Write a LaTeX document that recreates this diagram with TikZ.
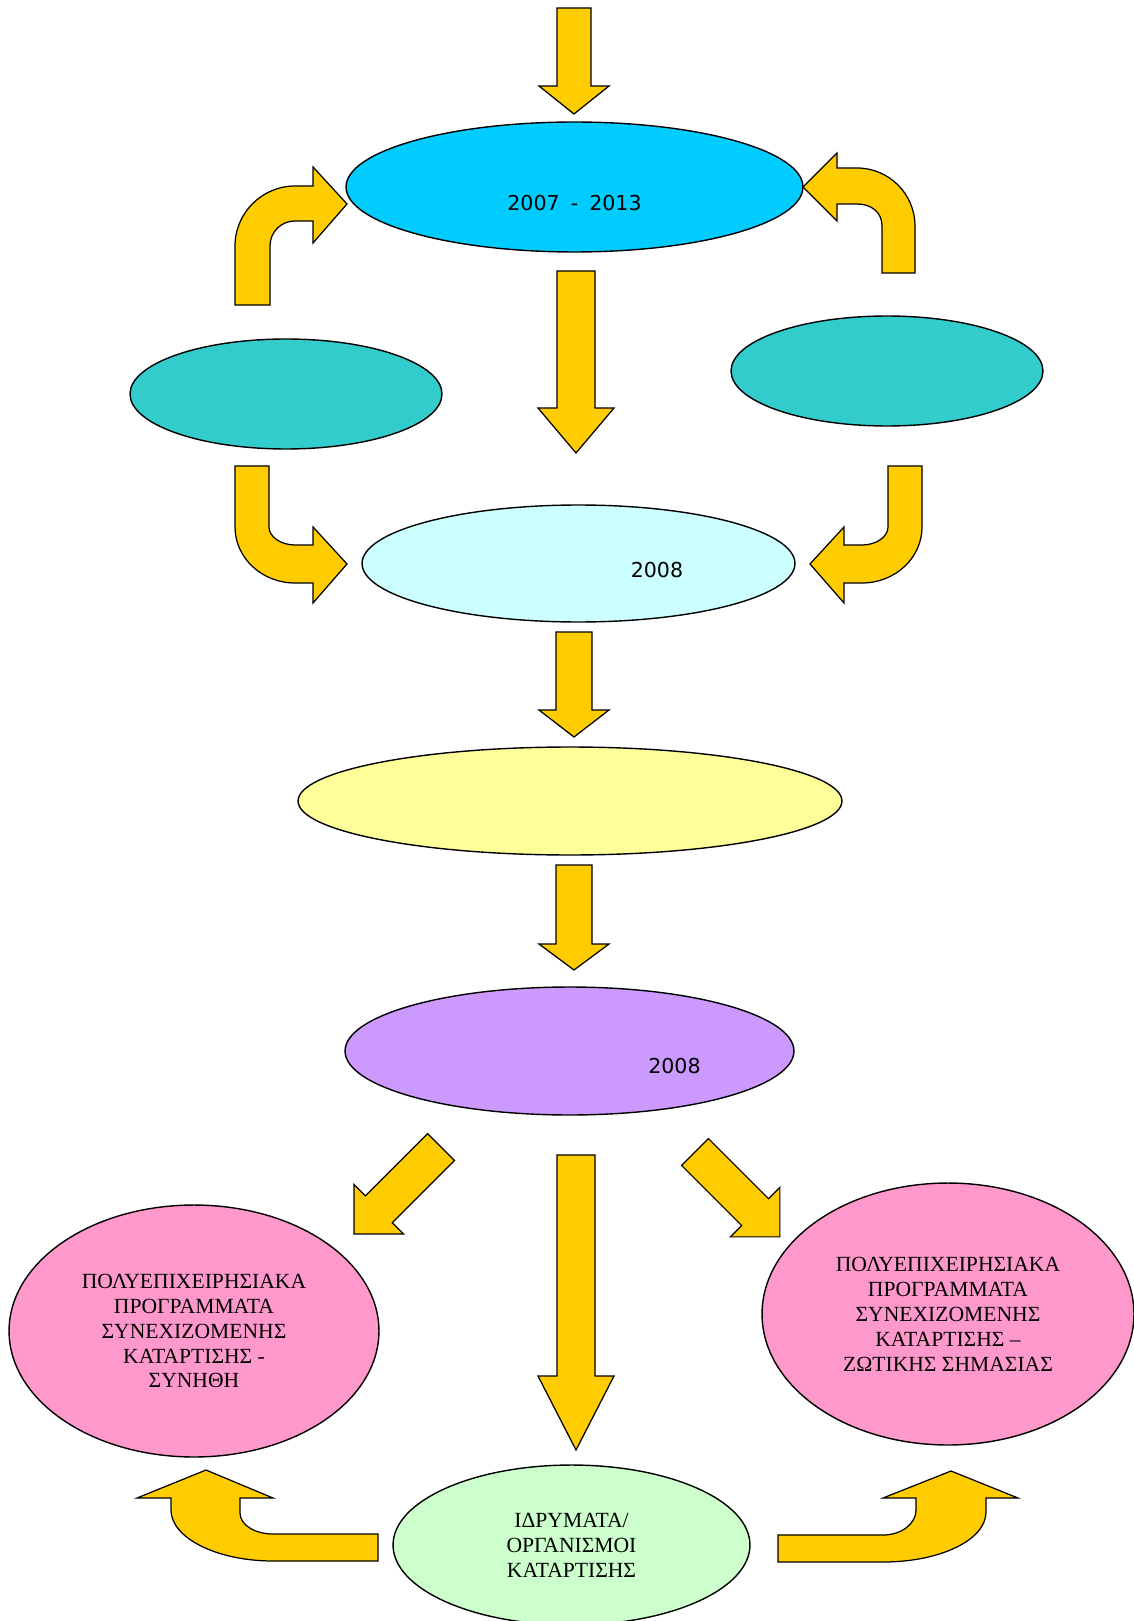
\documentclass[tikz,border=0pt]{standalone}
\usepackage{fontspec}
\setmainfont{Liberation Serif}
\newfontfamily\yearfont[WordSpace=1.7]{DejaVu Sans}
\usetikzlibrary{shapes.geometric}

\definecolor{arrowgold}{HTML}{FFCC00}
\definecolor{skyblue}{HTML}{00CCFF}
\definecolor{tealfill}{HTML}{33CCCC}
\definecolor{palecyan}{HTML}{CCFFFF}
\definecolor{paleyellow}{HTML}{FFFF99}
\definecolor{lilac}{HTML}{CC99FF}
\definecolor{rosefill}{HTML}{FF99CC}
\definecolor{palegreen}{HTML}{CCFFCC}

% straight block arrow: start, angle, length, shaft half, head half, head length
\newcommand{\blockarrow}[6]{%
  \draw[arrowbody,shift={(#1)},rotate=#2] (0,-#4) -- ({#3-#6},-#4) -- ({#3-#6},-#5)
    -- (#3,0) -- ({#3-#6},#5) -- ({#3-#6},#4) -- (0,#4) -- cycle;}

\begin{document}
\begin{tikzpicture}
	[x=0.02cm,y=-0.02cm,
		bubble/.style={ellipse,draw=black,line width=0.8pt,inner sep=0pt},
		greek/.style={align=center,font=\fontsize{12.3}{14.2}\selectfont},
		yeartext/.style={font=\yearfont\fontsize{11.7}{14}\selectfont},
		arrowbody/.style={fill=arrowgold,draw=black,line width=0.7pt,line join=miter}]
	\useasboundingbox (0,0) rectangle (1133,1621);
	\node[bubble,fill=skyblue,minimum width=9.14cm,minimum height=2.6cm] (period) at (574.5,187) {};
	\node[bubble,fill=tealfill,minimum width=6.24cm,minimum height=2.2cm] (sideL) at (286,394) {};
	\node[bubble,fill=tealfill,minimum width=6.24cm,minimum height=2.2cm] (sideR) at (887,371) {};
	\node[bubble,fill=palecyan,minimum width=8.66cm,minimum height=2.34cm] (invite) at (578.5,563.5) {};
	\node[bubble,fill=paleyellow,minimum width=10.88cm,minimum height=2.16cm] (review) at (570,801) {};
	\node[bubble,fill=lilac,minimum width=8.98cm,minimum height=2.56cm] (decision) at (569.5,1051) {};
	\node[bubble,fill=rosefill,minimum width=7.4cm,minimum height=5.04cm,greek] (usual) at (194,1331)
		{ΠΟΛΥΕΠΙΧΕΙΡΗΣΙΑΚΑ\\ΠΡΟΓΡΑΜΜΑΤΑ\\ΣΥΝΕΧΙΖΟΜΕΝΗΣ\\ΚΑΤΑΡΤΙΣΗΣ -\\ΣΥΝΗΘΗ};
	\node[bubble,fill=rosefill,minimum width=7.44cm,minimum height=5.24cm,greek] (vital) at (948,1314)
		{ΠΟΛΥΕΠΙΧΕΙΡΗΣΙΑΚΑ\\ΠΡΟΓΡΑΜΜΑΤΑ\\ΣΥΝΕΧΙΖΟΜΕΝΗΣ\\ΚΑΤΑΡΤΙΣΗΣ –\\ΖΩΤΙΚΗΣ ΣΗΜΑΣΙΑΣ};
	\node[bubble,fill=palegreen,minimum width=7.14cm,minimum height=3.2cm,greek] (institutes) at (571.5,1545)
		{ΙΔΡΥΜΑΤΑ/\\ΟΡΓΑΝΙΣΜΟΙ\\ΚΑΤΑΡΤΙΣΗΣ};
	\node[yeartext] (periodyears) at ([yshift=-0.32cm]period.center) {2007 - 2013};
	\node[yeartext] (inviteyear) at ([xshift=1.57cm,yshift=-0.13cm]invite.center) {2008};
	\node[yeartext] (decisionyear) at ([xshift=2.1cm,yshift=-0.3cm]decision.center) {2008};
	% straight arrows
	\blockarrow{574,8}{-90}{106}{17}{35}{28}
	\blockarrow{576,271}{-90}{182}{19}{38}{45}
	\blockarrow{574,632}{-90}{105}{18}{35}{27}
	\blockarrow{574,865}{-90}{105}{18}{35}{26}
	\blockarrow{576,1155}{-90}{295}{19}{38}{74}
	\blockarrow{441,1147}{-135}{123}{19}{35}{35}
	\blockarrow{695,1152}{-45}{120}{19}{35}{35}
	% bent arrows
	\draw[arrowbody] (235,305) -- (235,246) .. controls (235,213) and (262,186) .. (295,186) -- (313,186)
		-- (313,167) -- (347,204) -- (313,243) -- (313,221) -- (295,221)
		.. controls (281,221) and (270,232) .. (270,246) -- (270,305) -- cycle;
	\draw[arrowbody] (915,273) -- (915,226) .. controls (915,194) and (889,168) .. (857,168) -- (837,168)
		-- (837,153) -- (803,187) -- (837,221) -- (837,204) -- (857,204)
		.. controls (871,204) and (882,212) .. (882,226) -- (882,273) -- cycle;
	\draw[arrowbody] (235,466) -- (235,527) .. controls (235,558) and (262,583) .. (295,583) -- (313,583)
		-- (313,603) -- (347,564) -- (313,527) -- (313,545) -- (295,545)
		.. controls (281,545) and (269,537) .. (269,527) -- (269,466) -- cycle;
	\draw[arrowbody] (922,466) -- (922,527) .. controls (922,558) and (895,583) .. (862,583) -- (844,583)
		-- (844,603) -- (810,564) -- (844,527) -- (844,545) -- (862,545)
		.. controls (876,545) and (888,537) .. (888,527) -- (888,466) -- cycle;
	\draw[arrowbody] (378,1534) -- (273,1534) .. controls (255,1534) and (240,1525) .. (240,1513)
		-- (240,1498) -- (273,1498) -- (206,1470) -- (137,1498) -- (171,1498) -- (171,1510)
		.. controls (171,1538) and (217,1561) .. (273,1561) -- (378,1561) -- cycle;
	\draw[arrowbody] (778,1535) -- (883,1535) .. controls (901,1535) and (916,1524) .. (916,1510)
		-- (916,1498) -- (883,1498) -- (951,1471) -- (1018,1498) -- (986,1498) -- (986,1512)
		.. controls (986,1540) and (940,1562) .. (883,1562) -- (778,1562) -- cycle;
\end{tikzpicture}
\end{document}
